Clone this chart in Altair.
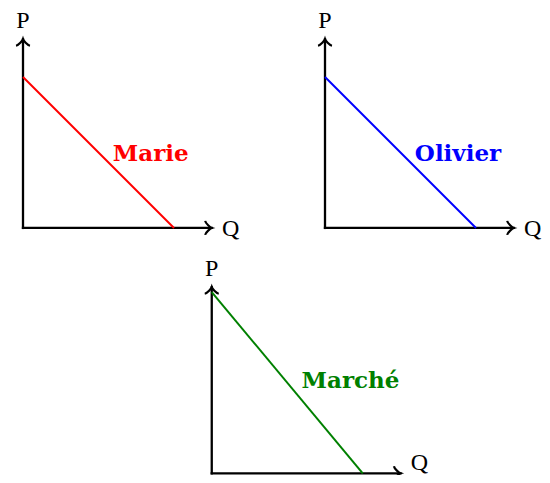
import altair as alt
import pandas as pd

# ---- data ----
names = ["Marie", "Olivier", "Marché"]
price_intercepts = [4.0, 4.0, 4.8]      # demand curve meets P axis
quantity_intercepts = [4.0, 4.0, 4.0]   # demand curve meets Q axis
price_label = "P"
quantity_label = "Q"

# ---- layout / style ----
colors = ["#ff0000", "#0000ff", "#008000"]
origins = [(0.0, 6.5), (8.0, 6.5), (5.0, 0.0)]
axis_len_x = [5.0, 5.0, 5.0]
axis_len_y = [5.0, 5.0, 4.93]
name_offset = [(2.38, 1.76), (2.38, 1.76), (2.38, 2.25)]
q_label_dy = [-0.22, -0.22, 0.1]   # last one nudged up to stay inside the page
FONT = "DejaVu Serif"
FONT_AX = "Liberation Serif"

U = 37.75
W, H = 534, 467
xa = -15 / U
xb = xa + W / U
yb = (473.3 - 8) / U
ya = yb - H / U

xs = alt.Scale(domain=[xa, xb], nice=False, zero=False)
ys = alt.Scale(domain=[ya, yb], nice=False, zero=False)

axes_rows, curve_rows, up_tips, right_tips, p_lab, q_lab, n_lab = [], [], [], [], [], [], []
for i, n in enumerate(names):
    ox, oy = origins[i]
    lx, ly = axis_len_x[i], axis_len_y[i]
    axes_rows.append(dict(x=ox, y=oy, x2=ox + lx, y2=oy))
    axes_rows.append(dict(x=ox, y=oy, x2=ox, y2=oy + ly))
    curve_rows.append(dict(name=n, x=ox, y=oy + price_intercepts[i],
                           x2=ox + quantity_intercepts[i], y2=oy))
    up_tips.append(dict(x=ox, y=oy + ly))
    right_tips.append(dict(x=ox + lx, y=oy))
    p_lab.append(dict(x=ox, y=oy + ly + 0.3, t=price_label))
    q_lab.append(dict(x=ox + lx + 0.27, y=oy + q_label_dy[i], t=quantity_label))
    n_lab.append(dict(name=n, x=ox + name_offset[i][0], y=oy + name_offset[i][1]))

axes_df = pd.DataFrame(axes_rows)
curve_df = pd.DataFrame(curve_rows)

enc = dict(x=alt.X("x:Q", scale=xs, axis=None), y=alt.Y("y:Q", scale=ys, axis=None))

axes = alt.Chart(axes_df).mark_rule(color="black", strokeWidth=2.3, strokeCap="square").encode(
    **enc, x2="x2:Q", y2="y2:Q")

color_enc = alt.Color("name:N", scale=alt.Scale(domain=names, range=colors), legend=None)

curves = alt.Chart(curve_df).mark_rule(strokeWidth=2).encode(
    **enc, x2="x2:Q", y2="y2:Q", color=color_enc)

up_path = "M -1 0.94 C -0.62 0.87 -0.06 0.19 0 0 C 0.06 0.19 0.62 0.87 1 0.94"
right_path = "M -0.94 -1 C -0.87 -0.62 -0.19 -0.06 0 0 C -0.19 0.06 -0.87 0.62 -0.94 1"

up_arrows = alt.Chart(pd.DataFrame(up_tips)).mark_point(
    shape=up_path, filled=False, stroke="black", strokeWidth=2.2, size=196, opacity=1
).encode(**enc)
right_arrows = alt.Chart(pd.DataFrame(right_tips)).mark_point(
    shape=right_path, filled=False, stroke="black", strokeWidth=2.2, size=196, opacity=1
).encode(**enc)

p_text = alt.Chart(pd.DataFrame(p_lab)).mark_text(
    font=FONT_AX, fontSize=24, align="center", baseline="alphabetic", color="black"
).encode(**enc, text="t:N")
q_text = alt.Chart(pd.DataFrame(q_lab)).mark_text(
    font=FONT_AX, fontSize=24, align="left", baseline="alphabetic", color="black"
).encode(**enc, text="t:N")
n_text = alt.Chart(pd.DataFrame(n_lab)).mark_text(
    font=FONT, fontSize=23, fontWeight="bold", align="left", baseline="alphabetic"
).encode(**enc, text="name:N", color=color_enc)

chart = alt.layer(axes, curves, up_arrows, right_arrows, p_text, q_text, n_text).properties(
    width=W, height=H, padding=0, autosize=alt.AutoSizeParams(type="none")
).configure_view(stroke=None)

chart.save("out.html", embed_options={"renderer": "svg", "actions": False})
